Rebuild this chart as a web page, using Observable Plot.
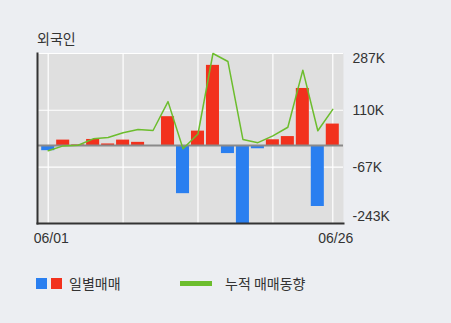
<!DOCTYPE html>
<html><head><meta charset="utf-8">
<script src="https://cdn.jsdelivr.net/npm/d3@7"></script>
<script src="https://cdn.jsdelivr.net/npm/@observablehq/plot@0.6"></script>
<style>
html,body{margin:0;padding:0;background:#eceef2;}
#wrap{position:relative;width:451px;height:323px;background:#eceef2;overflow:hidden;font-family:"Noto Sans CJK KR",sans-serif;color:#333;}
#chart{position:absolute;left:0;top:0;}
#title{position:absolute;left:37px;top:28px;font-size:14px;line-height:20px;}
#legend{position:absolute;left:0;top:273px;width:451px;height:20px;font-size:14px;line-height:20px;}
#legend span{position:absolute;}
.sw{width:11px;height:11px;top:5px;}
</style></head><body>
<div id="wrap">
  <div id="chart"></div>
  <div id="title">외국인</div>
  <div id="legend">
    <span class="sw" style="left:36px;background:#2a7ff0"></span>
    <span class="sw" style="left:51px;background:#f2311d"></span>
    <span style="left:69px;top:0">일별매매</span>
    <span style="left:180px;top:8px;width:32px;height:5px;background:#6cbd2d"></span>
    <span style="left:225px;top:0">누적 매매동향</span>
  </div>
</div>
<script>
const dates = ["06/01","06/02","06/03","06/04","06/05","06/08","06/09","06/10","06/11","06/12",
               "06/15","06/16","06/17","06/18","06/19","06/22","06/23","06/24","06/25","06/26"];
// daily net buying (thousand shares)
const daily = [-16, 17, 2, 19, 5, 17, 10, -2, 90, -150, 45, 250, -25, -243, -10, 18, 28, 178, -190, 67];
// cumulative net buying (thousand shares)
const cumulative = [-16, -1, 1, 21, 25, 40, 50, 47, 137, -10, 36, 287, 262, 19, 9, 30, 57, 235, 46, 113];
const yTicks = [287, 110, -67, -243];
const xLabels = ["06/01", "06/26"];
const xGrid = ["06/01", "06/08", "06/15", "06/22", "06/26"];

const K = 1000;
const rows = dates.map((d, i) => ({date: d, daily: daily[i] * K, cum: cumulative[i] * K}));
const tickRows = yTicks.map(v => ({v: v * K, label: v + "K"}));
const yDomain = d3.extent([...daily, ...cumulative]).map(v => v * K);

const labelFont = {fontSize: 14, fill: "#333"};
const plot = Plot.plot({
  width: 451, height: 323,
  marginTop: 53, marginBottom: 100, marginLeft: 37, marginRight: 108,
  style: {background: "transparent", fontFamily: "'Liberation Sans', Arial, sans-serif", fontSize: "14px", color: "#333"},
  x: {type: "band", domain: dates, paddingInner: 0.13, paddingOuter: 0.28, round: false, axis: null},
  y: {domain: yDomain, axis: null},
  color: {domain: ["buy", "sell"], range: ["#f2311d", "#2a7ff0"]},
  marks: [
    Plot.frame({fill: "#dfdfdf", stroke: "none"}),
    Plot.ruleY(tickRows, {y: "v", stroke: "white", strokeWidth: 1.2}),
    Plot.ruleX(xGrid, {x: d => d, stroke: "white", strokeWidth: 1.2}),
    Plot.barY(rows, {x: "date", y1: 0, y2: "daily", fill: d => d.daily >= 0 ? "buy" : "sell"}),
    Plot.ruleY([0], {stroke: "#8a8a8a", strokeWidth: 2}),
    Plot.lineY(rows, {x: "date", y: "cum", stroke: "#6cbd2d", strokeWidth: 1.5}),
    Plot.frame({anchor: "left", stroke: "#333", strokeWidth: 2}),
    Plot.frame({anchor: "bottom", stroke: "#333", strokeWidth: 2}),
    Plot.text(tickRows.slice(1, -1), {y: "v", text: "label", frameAnchor: "right", textAnchor: "start", dx: 9, ...labelFont}),
    Plot.text(tickRows.slice(0, 1), {y: "v", text: "label", frameAnchor: "right", textAnchor: "start", dx: 9, lineAnchor: "top", dy: 0, ...labelFont}),
    Plot.text(tickRows.slice(-1), {y: "v", text: "label", frameAnchor: "right", textAnchor: "start", dx: 9, lineAnchor: "bottom", dy: -3, ...labelFont}),
    Plot.text(xLabels, {x: d => d, text: d => d, frameAnchor: "bottom", dy: 19, dx: 3, ...labelFont})
  ]
});
document.getElementById("chart").appendChild(plot);
</script>
</body></html>
